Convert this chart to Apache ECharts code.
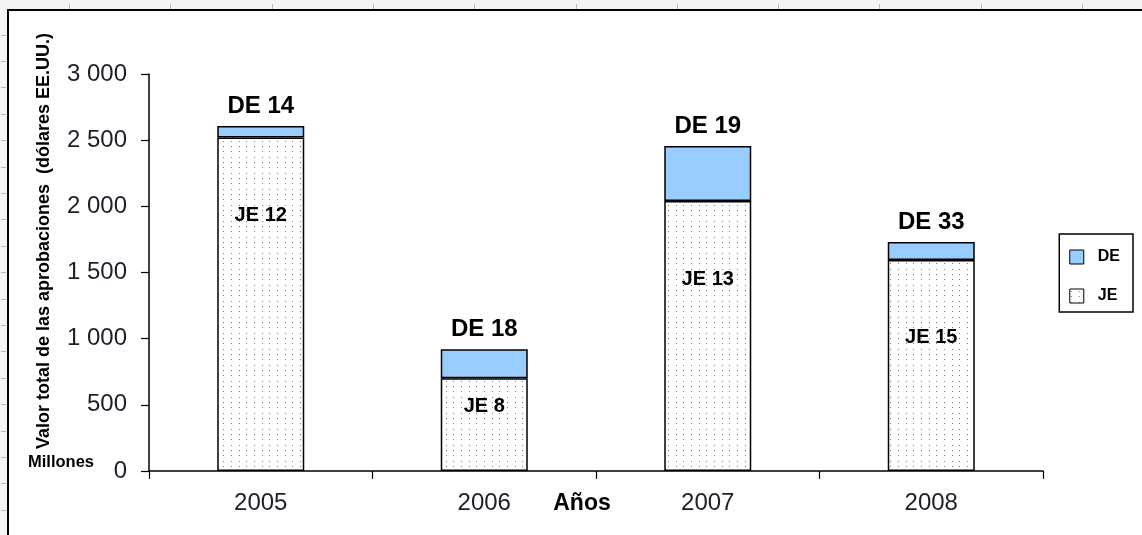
<!DOCTYPE html>
<html>
<head>
<meta charset="utf-8">
<script src="https://cdn.jsdelivr.net/npm/echarts@6/dist/echarts.min.js"></script>
<style>
html,body{margin:0;padding:0;background:#fff;}
#chart{width:1142px;height:535px;}
</style>
</head>
<body>
<div id="chart"></div>
<script>
// ---- data ----
var years = ['2005', '2006', '2007', '2008'];
var jeValues = [2520, 700, 2040, 1595];
var deValues = [87, 220, 416, 135];
var jeCounts = [12, 8, 13, 15];
var deCounts = [14, 18, 19, 33];
var yTicks = [0, 500, 1000, 1500, 2000, 2500, 3000];

var FONT = "'Liberation Sans', Arial, sans-serif";

// dotted pattern for JE
var pc = document.createElement('canvas');
pc.width = 23; pc.height = 16;
var pctx = pc.getContext('2d');
pctx.fillStyle = '#ffffff';
pctx.fillRect(0, 0, 23, 16);
pctx.fillStyle = '#7a7a7a';
[1, 9, 16].forEach(function (x) {
  [2, 7, 13].forEach(function (y) { pctx.fillRect(x, y, 1, 1); });
});
var jePattern = { image: pc, repeat: 'repeat' };

function fmt(v) {
  var s = String(v);
  return s.length > 3 ? s.slice(0, s.length - 3) + ' ' + s.slice(-3) : s;
}

// decorative ruler + frame
var graphics = [];
graphics.push({ type: 'rect', shape: { x: 0, y: 0, width: 1142, height: 9 }, style: { fill: '#f4f4f4' }, silent: true });
graphics.push({ type: 'rect', shape: { x: 0, y: 0, width: 7, height: 535 }, style: { fill: '#f4f4f4' }, silent: true });
for (var tx = 69; tx < 1142; tx += 101.3) {
  graphics.push({ type: 'line', shape: { x1: Math.round(tx) + 0.5, y1: 4, x2: Math.round(tx) + 0.5, y2: 9 }, style: { stroke: '#b8b8b8', lineWidth: 1 }, silent: true });
}
for (var ty = 34.6; ty < 535; ty += 26.4) {
  graphics.push({ type: 'line', shape: { x1: 1, y1: Math.round(ty) + 0.5, x2: 6, y2: Math.round(ty) + 0.5 }, style: { stroke: '#b8b8b8', lineWidth: 1 }, silent: true });
}
graphics.push({ type: 'rect', shape: { x: 8, y: 10, width: 1200, height: 600 }, style: { fill: 'none', stroke: '#000', lineWidth: 2 }, silent: true });
graphics.push({
  type: 'text', x: 44, y: 241, rotation: Math.PI / 2,
  style: { text: 'Valor total de las aprobaciones  (dólares EE.UU.)', font: 'bold 18px ' + FONT, fill: '#000', textAlign: 'center', textVerticalAlign: 'middle' }
});
graphics.push({
  type: 'text', x: 61, y: 462,
  style: { text: 'Millones', font: 'bold 16.5px ' + FONT, fill: '#000', textAlign: 'center', textVerticalAlign: 'middle' }
});
graphics.push({
  type: 'text', x: 582, y: 504,
  style: { text: 'Años', font: 'bold 23px ' + FONT, fill: '#000', textAlign: 'center', textVerticalAlign: 'middle' }
});

var jeData = jeValues.map(function (v, i) {
  var d = { value: v };
  if (v < 1000) d.label = { distance: 18 };
  return d;
});

var option = {
  animation: false,
  backgroundColor: '#fff',
  textStyle: { fontFamily: FONT },
  grid: { left: 149, right: 99, top: 74, bottom: 64, containLabel: false },
  legend: {
    orient: 'vertical',
    right: 9, top: 234,
    data: ['DE', 'JE'],
    itemWidth: 14, itemHeight: 14, itemGap: 23,
    padding: [15, 13, 8, 10],
    borderColor: '#000', borderWidth: 1.5,
    icon: 'rect',
    itemStyle: { borderColor: '#000', borderWidth: 1 },
    textStyle: { fontFamily: FONT, fontWeight: 'bold', fontSize: 16, color: '#000', padding: [0, 0, 0, 9] }
  },
  xAxis: {
    type: 'category',
    data: years,
    axisLine: { lineStyle: { color: '#000', width: 1.5 } },
    axisTick: { show: true, length: 8, lineStyle: { color: '#000', width: 1.2 } },
    axisLabel: { fontSize: 24, color: '#1e1e2a', margin: 20, fontFamily: FONT },
    splitLine: { show: false }
  },
  yAxis: {
    type: 'value',
    min: yTicks[0], max: yTicks[yTicks.length - 1], interval: 500,
    axisLine: { show: true, lineStyle: { color: '#000', width: 1.5 } },
    axisTick: { show: true, length: 8, lineStyle: { color: '#000', width: 1.2 } },
    axisLabel: { fontSize: 24, color: '#1e1e2a', margin: 22, fontFamily: FONT, formatter: fmt },
    splitLine: { show: false }
  },
  series: [
    {
      name: 'JE', type: 'bar', stack: 'total', barWidth: 87,
      data: jeData,
      itemStyle: { color: jePattern, borderColor: '#000', borderWidth: 1.5 },
      label: {
        show: true, position: 'insideTop', distance: 68,
        formatter: function (p) { return 'JE ' + jeCounts[p.dataIndex]; },
        fontFamily: FONT, fontWeight: 'bold', fontSize: 20, color: '#000'
      }
    },
    {
      name: 'DE', type: 'bar', stack: 'total', barWidth: 87,
      data: deValues,
      itemStyle: { color: '#99ccff', borderColor: '#000', borderWidth: 1.5 },
      label: {
        show: true, position: 'top', distance: 8,
        formatter: function (p) { return 'DE ' + deCounts[p.dataIndex]; },
        fontFamily: FONT, fontWeight: 'bold', fontSize: 24, color: '#000'
      }
    }
  ],
  graphic: graphics
};

var chart = echarts.init(document.getElementById('chart'), null, { renderer: 'canvas' });
chart.setOption(option);
</script>
</body>
</html>
